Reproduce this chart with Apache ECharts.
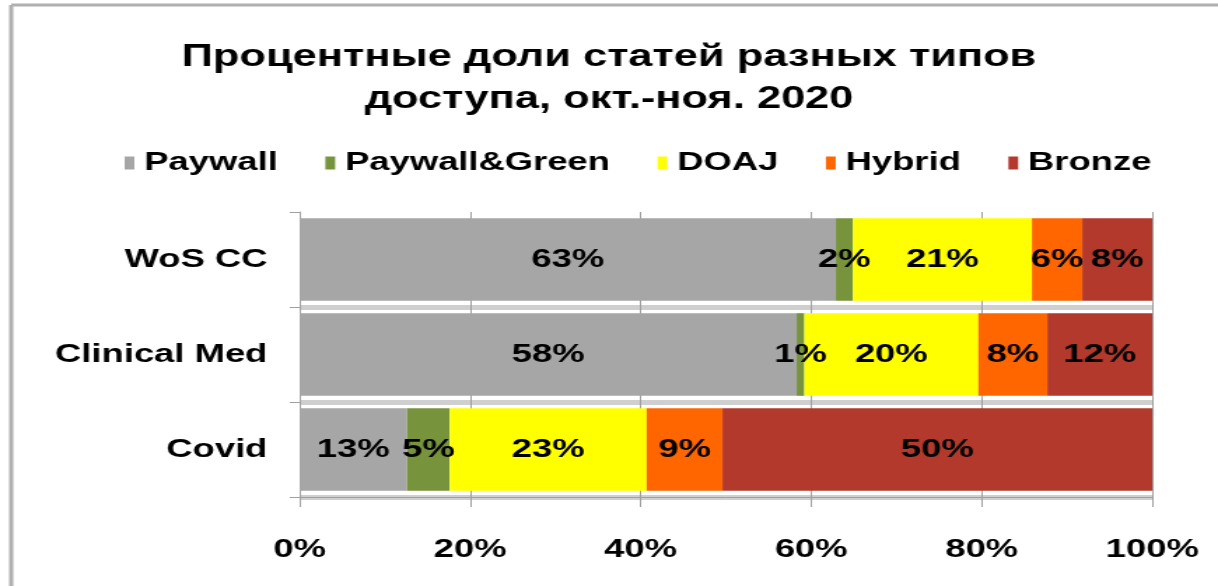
<!DOCTYPE html>
<html>
<head>
<meta charset="utf-8">
<script src="https://cdn.jsdelivr.net/npm/echarts@6/dist/echarts.min.js"></script>
<style>
    html, body { margin: 0; padding: 0; background: #fff; overflow: hidden; }
    /* the original picture is stretched sideways, so draw narrow and stretch */
    #graph { width: 870px; height: 586px; transform: scaleX(1.4); transform-origin: 0 0; }
</style>
</head>
<body>
<div id="graph"></div>
<script>
var categories = ['WoS CC', 'Clinical Med', 'Covid'];
var seriesNames = ['Paywall', 'Paywall&Green', 'DOAJ', 'Hybrid', 'Bronze'];
var paywall = [62.9, 58.3, 12.6];
var paywallGreen = [2.0, 0.9, 5.0];
var doaj = [21.0, 20.4, 23.1];
var hybrid = [5.9, 8.1, 8.9];
var bronze = [8.2, 12.3, 50.4];
var xTicks = ['0%', '20%', '40%', '60%', '80%', '100%'];

var colors = ['#a6a6a6', '#77933c', '#ffff00', '#ff6600', '#b2392c'];
var values = [paywall, paywallGreen, doaj, hybrid, bronze];
var font = 'Liberation Sans, Arial, sans-serif';

var myChart = echarts.init(document.getElementById('graph'));

var series = seriesNames.map(function (name, i) {
    return {
        name: name,
        type: 'bar',
        stack: 'total',
        barCategoryGap: '13%',
        itemStyle: { color: colors[i] },
        label: {
            show: true,
            position: 'inside',
            color: '#000',
            fontFamily: font,
            fontWeight: 'bold',
            fontSize: 26,
            formatter: function (p) { return Math.round(p.value) + '%'; }
        },
        data: values[i]
    };
});

var option = {
    animation: false,
    title: {
        text: 'Процентные доли статей разных типов\nдоступа, окт.-ноя. 2020',
        left: 'center',
        top: 31,
        textStyle: {
            fontFamily: font,
            fontWeight: 'bold',
            fontSize: 31,
            lineHeight: 42,
            color: '#000'
        }
    },
    legend: {
        top: 145,
        left: 84,
        itemWidth: 7,
        itemHeight: 13,
        itemGap: 34,
        icon: 'rect',
        data: seriesNames,
        textStyle: {
            fontFamily: font,
            fontWeight: 'bold',
            fontSize: 26,
            color: '#000',
            padding: [0, 0, 0, 2]
        }
    },
    grid: {
        left: 214,
        right: 47,
        top: 212,
        bottom: 89,
        containLabel: false
    },
    xAxis: {
        type: 'value',
        min: 0,
        max: 100,
        interval: 20,
        axisLine: { show: true, lineStyle: { color: '#a0a0a0', width: 1 } },
        axisTick: { show: true, length: 10, lineStyle: { color: '#a0a0a0' } },
        splitLine: { show: true, lineStyle: { color: '#a0a0a0', width: 1 } },
        axisLabel: {
            margin: 40,
            color: '#000',
            fontFamily: font,
            fontWeight: 'bold',
            fontSize: 26,
            formatter: function (v) { return xTicks[v / 20]; }
        }
    },
    yAxis: {
        type: 'category',
        inverse: true,
        data: categories,
        axisLine: { show: true, lineStyle: { color: '#a0a0a0', width: 1 } },
        axisTick: { show: true, length: 7, lineStyle: { color: '#a0a0a0' } },
        splitLine: {
            show: true,
            interval: function (index) { return index !== 0; },
            lineStyle: { color: '#cfcfcf', width: 5 }
        },
        axisLabel: {
            margin: 23,
            color: '#000',
            fontFamily: font,
            fontWeight: 'bold',
            fontSize: 26
        }
    },
    graphic: [
        { type: 'line', shape: { x1: 8, y1: 5, x2: 870, y2: 5 }, style: { stroke: '#b0b0b0', lineWidth: 3 } },
        { type: 'line', shape: { x1: 8, y1: 5, x2: 8, y2: 586 }, style: { stroke: '#b0b0b0', lineWidth: 3 } }
    ],
    series: series
};

myChart.setOption(option);
</script>
</body>
</html>
